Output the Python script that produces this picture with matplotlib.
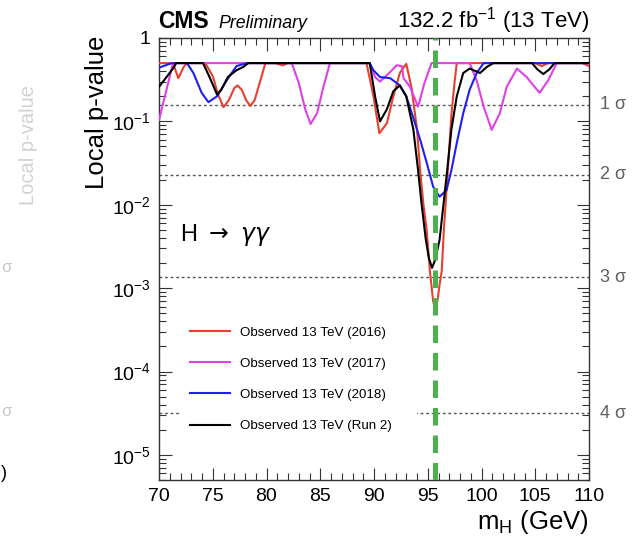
import numpy as np
import matplotlib
matplotlib.use('Agg')
import matplotlib.pyplot as plt
from matplotlib.ticker import MultipleLocator, LogLocator, FuncFormatter, NullFormatter
from matplotlib.patches import Rectangle

# ---------------- data ----------------
red_m = [70, 71.3, 71.8, 72.3, 72.6, 74.3, 75.0, 75.5, 76.0, 76.5, 77.0, 77.3, 77.7, 78.1,
         78.5, 78.9, 79.4, 79.9, 80.8, 81.5, 82.0, 89.3, 89.95, 90.5, 91.2, 91.8, 92.4, 93.0,
         93.5, 94.0, 94.3, 94.6, 94.9, 95.2, 95.5, 95.7, 95.9, 96.1, 96.3, 96.5, 96.9, 97.2,
         97.5, 97.7, 105.0, 105.6, 106.2, 109.4, 110]
red_p = [0.5, 0.5, 0.33, 0.45, 0.5, 0.5, 0.35, 0.21, 0.148, 0.18, 0.25, 0.27, 0.24, 0.18,
         0.153, 0.18, 0.3, 0.5, 0.5, 0.47, 0.5, 0.5, 0.2, 0.072, 0.095, 0.2, 0.38, 0.49,
         0.25, 0.08, 0.025, 0.01, 5e-3, 1.6e-3, 7e-4, 5.5e-4, 7e-4, 1.1e-3, 1.6e-3, 5e-3, 0.03, 0.12,
         0.3, 0.5, 0.5, 0.46, 0.5, 0.5, 0.46]

magenta_m = [70, 70.7, 71.3, 82.35, 83.0, 83.6, 84.1, 84.7, 85.3, 85.9, 89.6, 90.1, 90.56,
             91.5, 92.1, 92.6, 92.75, 93.35, 94.1, 94.7, 95.35, 98.9, 99.55, 100.2, 100.95,
             101.7, 102.35, 103.3, 104.2, 105.4, 106.2, 107.0, 110]
magenta_p = [0.104, 0.24, 0.5, 0.5, 0.29, 0.14, 0.093, 0.125, 0.26, 0.5, 0.5, 0.34, 0.30,
             0.39, 0.47, 0.46, 0.33, 0.26, 0.15, 0.29, 0.5, 0.5, 0.31, 0.15, 0.079,
             0.125, 0.26, 0.43, 0.34, 0.22, 0.31, 0.5, 0.5]

blue_m = [70, 70.6, 71.2, 72.6, 73.2, 73.97, 74.6, 75.4, 76.3, 77.2, 78.2, 89.6, 89.95, 90.56,
          91.5, 92.4, 93.0, 93.66, 94.3, 94.9, 95.5, 96.1, 96.75, 97.2, 97.7, 98.3, 98.9,
          99.55, 100.2, 110]
blue_p = [0.44, 0.47, 0.5, 0.5, 0.38, 0.22, 0.17, 0.2, 0.31, 0.46, 0.5, 0.5, 0.41, 0.34,
          0.33, 0.27, 0.2, 0.11, 0.06, 0.032, 0.0165, 0.0125, 0.015, 0.026, 0.055, 0.125, 0.24,
          0.38, 0.5, 0.5]

black_m = [70, 70.7, 71.3, 71.6, 74.1, 74.7, 75.4, 75.8, 76.4, 77.2, 77.85, 78.3, 89.6, 90.1,
           90.56, 91.2, 91.8, 92.4, 93.0, 93.66, 94.1, 94.4, 94.8, 95.1, 95.4, 95.7, 96.1,
           96.75, 97.2, 97.7, 98.3, 98.9, 99.86, 100.5, 101.1, 104.7, 105.2, 105.75, 106.3,
           106.8, 110]
black_p = [0.26, 0.34, 0.43, 0.5, 0.5, 0.34, 0.21, 0.24, 0.34, 0.41, 0.45, 0.5, 0.5, 0.2,
           0.1, 0.14, 0.23, 0.27, 0.2, 0.08, 0.026, 0.011, 4e-3, 2.3e-3, 1.75e-3, 2.2e-3, 3.8e-3,
           0.022, 0.08, 0.2, 0.38, 0.43, 0.38, 0.45, 0.5, 0.5, 0.42, 0.37, 0.42,
           0.5, 0.5]

series_labels = ['Observed 13 TeV (2016)', 'Observed 13 TeV (2017)',
                 'Observed 13 TeV (2018)', 'Observed 13 TeV (Run 2)']
sigma_p = [0.1587, 0.02275, 1.35e-3, 3.17e-5]
sigma_labels = ['1 σ', '2 σ', '3 σ', '4 σ']
excess_mass = 95.7
x_range = (70, 110)
y_range = (5e-6, 1.0)

# ---------------- style ----------------
plt.rcParams['font.family'] = ['Liberation Sans', 'DejaVu Sans']
plt.rcParams['mathtext.fontset'] = 'custom'
plt.rcParams['mathtext.rm'] = 'Liberation Sans'
plt.rcParams['mathtext.it'] = 'Liberation Sans:italic'
plt.rcParams['mathtext.bf'] = 'Liberation Sans:bold'

W, H = 634, 536
fig = plt.figure(figsize=(W / 100, H / 100), dpi=100)
ax = fig.add_axes([159 / W, 56 / H, 430 / W, 442 / H])

colors = ['#e8402e', '#e040e8', '#1f1fef', '#000000']
data = [(red_m, red_p), (magenta_m, magenta_p), (blue_m, blue_p), (black_m, black_p)]
for (m, p), c, lab in zip(data, colors, series_labels):
    ax.plot(m, p, color=c, lw=1.5, label=lab, zorder=3, solid_joinstyle='round')

for p, lab in zip(sigma_p, sigma_labels):
    ax.axhline(p, color='#555555', lw=1.0, ls=(0, (2, 2)), zorder=1)
    ax.text(1.025, p, lab, transform=ax.get_yaxis_transform(), va='center', ha='left',
            fontsize=13, color='#606060')

ax.axvline(excess_mass, color='#4cb050', lw=3.6, ls=(0, (3.5, 2)), zorder=4)

# white box behind legend
ax.add_patch(Rectangle((0.049, 0.062), 0.551, 0.334, transform=ax.transAxes,
                       facecolor='white', edgecolor='none', zorder=2))
leg = ax.legend(loc='upper left', bbox_to_anchor=(0.06, 0.36), frameon=False, fontsize=9.6,
                handlelength=3.0, handletextpad=0.75, labelspacing=1.42, borderaxespad=0)
leg.set_zorder(5)

ax.set_xlim(*x_range)
ax.set_yscale('log')
ax.set_ylim(*y_range)

ax.xaxis.set_major_locator(MultipleLocator(5))
ax.xaxis.set_minor_locator(MultipleLocator(1))
ax.yaxis.set_major_locator(LogLocator(base=10, numticks=10))
ax.yaxis.set_minor_locator(LogLocator(base=10, subs=np.arange(2, 10), numticks=20))
ax.yaxis.set_minor_formatter(NullFormatter())


def yfmt(v, _):
    e = int(round(np.log10(v)))
    return '1' if e == 0 else r'$10^{%d}$' % e


ax.yaxis.set_major_formatter(FuncFormatter(yfmt))
ax.tick_params(which='both', direction='in', top=True, right=True, width=0.8, color='#333333')
ax.tick_params(which='major', length=9, labelsize=14, pad=6)
ax.tick_params(which='minor', length=5)
for s in ax.spines.values():
    s.set_color('#333333')
    s.set_linewidth(1.0)

ax.text(0.05, 0.555, r'H $\rightarrow\ \gamma\gamma$', transform=ax.transAxes, fontsize=17,
        va='center', ha='left', math_fontfamily='dejavusans')

fig.text(158 / W, 1 - 28 / H, 'CMS', fontsize=16.5, weight='bold', va='baseline', ha='left')
fig.text(218 / W, 1 - 28 / H, 'Preliminary', fontsize=12.8, style='italic', va='baseline', ha='left')
fig.text(589 / W, 1 - 28 / H, r'132.2 fb$^{-1}$ (13 TeV)', fontsize=16, va='baseline', ha='right')

fig.text(97 / W, 1 - 36 / H, 'Local p-value', rotation=90, fontsize=18.5, va='top', ha='center')
fig.text(589 / W, 1 - 522 / H, r'm$_\mathregular{H}$ (GeV)', fontsize=18.5, va='center', ha='right')

# faint ghost text on the left edge of the reference
fig.text(28 / W, 1 - 145 / H, 'Local p-value', rotation=90, fontsize=14.5, va='center', ha='center',
         color='#d2d2d2')
fig.text(1 / W, 1 - 268 / H, 'σ', fontsize=12, va='center', ha='left', color='#c8c8c8')
fig.text(1 / W, 1 - 412 / H, 'σ', fontsize=12, va='center', ha='left', color='#c8c8c8')
fig.text(0.5 / W, 1 - 473 / H, ')', fontsize=13, va='center', ha='left', color='black')

fig.savefig('out.png', dpi=100)
